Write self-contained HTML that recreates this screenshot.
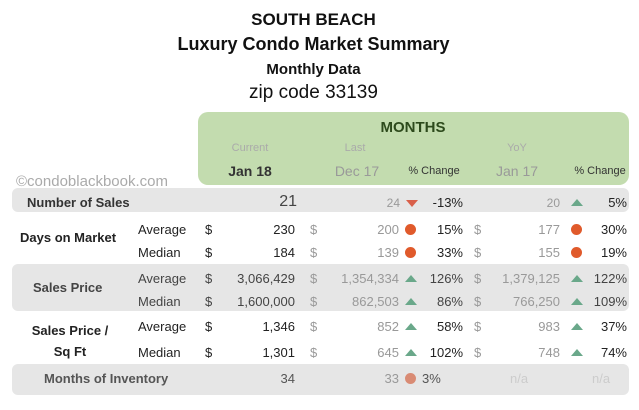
<!DOCTYPE html>
<html><head><meta charset="utf-8"><style>
body{margin:0;width:639px;height:410px;background:#fff;font-family:"Liberation Sans",Arial,sans-serif;position:relative;overflow:hidden}
.a{position:absolute;white-space:nowrap;line-height:16px;font-size:13px;color:#222}
.t{position:absolute;left:0;width:627px;text-align:center;font-weight:bold;color:#111}
.band{position:absolute;left:12px;width:617px;background:#e6e6e6;border-radius:6px}
.g{color:#999}
.c{position:absolute;width:11px;height:11px;border-radius:50%;background:#e05a2b}
.up{position:absolute;width:0;height:0;border-left:6px solid transparent;border-right:6px solid transparent;border-bottom:7px solid #6aa88a}
.dn{position:absolute;width:0;height:0;border-left:6px solid transparent;border-right:6px solid transparent;border-top:7px solid #d9604a}
.h{position:absolute;font-size:12px;color:#aaa;transform:translateX(-50%);white-space:nowrap}
</style></head><body>
<div class="t" style="top:10px;font-size:17px">SOUTH BEACH</div>
<div class="t" style="top:34px;font-size:18px">Luxury Condo Market Summary</div>
<div class="t" style="top:61px;font-size:15px">Monthly Data</div>
<div class="t" style="top:82px;font-size:19px;font-weight:normal">zip code 33139</div>

<div style="position:absolute;left:198px;top:112px;width:431px;height:73px;background:#c3dcaf;border-radius:10px"></div>
<div class="h" style="left:413px;top:119px;font-size:15px;font-weight:bold;color:#2d4a1c">MONTHS</div>
<div class="h" style="left:250px;top:142px;font-size:11px">Current</div>
<div class="h" style="left:355px;top:142px;font-size:11px">Last</div>
<div class="h" style="left:517px;top:142px;font-size:11px">YoY</div>
<div class="h" style="left:250px;top:163px;font-size:14px;font-weight:bold;color:#333">Jan 18</div>
<div class="h" style="left:357px;top:163px;font-size:14px;color:#999">Dec 17</div>
<div class="h" style="left:434px;top:165px;font-size:11px;color:#333">% Change</div>
<div class="h" style="left:517px;top:163px;font-size:14px;color:#999">Jan 17</div>
<div class="h" style="left:600px;top:165px;font-size:11px;color:#333">% Change</div>
<div class="a" style="left:16px;top:173px;font-size:15px;color:#aaa;line-height:18px">©condoblackbook.com</div>

<div class="band" style="top:188px;height:24px"></div>
<div class="band" style="top:264px;height:47px"></div>
<div class="band" style="top:364px;height:31px"></div>

<!-- Number of Sales -->
<div class="a" style="left:27px;top:195px;font-weight:bold;color:#333">Number of Sales</div>
<div class="a" style="right:342px;top:194px;font-size:16px;color:#444">21</div>
<div class="a g" style="right:239px;top:195px;font-size:12px">24</div>
<div class="dn" style="left:406px;top:200px"></div>
<div class="a" style="right:176px;top:195px">-13%</div>
<div class="a g" style="right:79px;top:195px;font-size:12px">20</div>
<div class="up" style="left:571px;top:199px"></div>
<div class="a" style="right:12px;top:195px">5%</div>

<!-- Days on Market -->
<div class="a" style="left:20px;top:230px;font-weight:bold">Days on Market</div>
<div class="a" style="left:138px;top:222px">Average</div>
<div class="a" style="left:205px;top:222px">$</div>
<div class="a" style="right:344px;top:222px">230</div>
<div class="a g" style="left:310px;top:222px">$</div>
<div class="a g" style="right:240px;top:222px">200</div>
<div class="c" style="left:405px;top:224px"></div>
<div class="a" style="right:176px;top:222px">15%</div>
<div class="a g" style="left:474px;top:222px">$</div>
<div class="a g" style="right:79px;top:222px">177</div>
<div class="c" style="left:571px;top:224px"></div>
<div class="a" style="right:12px;top:222px">30%</div>

<div class="a" style="left:138px;top:245px">Median</div>
<div class="a" style="left:205px;top:245px">$</div>
<div class="a" style="right:344px;top:245px">184</div>
<div class="a g" style="left:310px;top:245px">$</div>
<div class="a g" style="right:240px;top:245px">139</div>
<div class="c" style="left:405px;top:247px"></div>
<div class="a" style="right:176px;top:245px">33%</div>
<div class="a g" style="left:474px;top:245px">$</div>
<div class="a g" style="right:79px;top:245px">155</div>
<div class="c" style="left:571px;top:247px"></div>
<div class="a" style="right:12px;top:245px">19%</div>

<!-- Sales Price -->
<div class="a" style="left:33px;top:280px;font-weight:bold;color:#444">Sales Price</div>
<div class="a" style="left:138px;top:271px;color:#444">Average</div>
<div class="a" style="left:205px;top:271px;color:#444">$</div>
<div class="a" style="right:344px;top:271px;color:#444">3,066,429</div>
<div class="a g" style="left:310px;top:271px">$</div>
<div class="a g" style="right:240px;top:271px">1,354,334</div>
<div class="up" style="left:405px;top:275px"></div>
<div class="a" style="right:176px;top:271px;color:#444">126%</div>
<div class="a g" style="left:474px;top:271px">$</div>
<div class="a g" style="right:79px;top:271px">1,379,125</div>
<div class="up" style="left:571px;top:275px"></div>
<div class="a" style="right:12px;top:271px;color:#444">122%</div>

<div class="a" style="left:138px;top:294px;color:#444">Median</div>
<div class="a" style="left:205px;top:294px;color:#444">$</div>
<div class="a" style="right:344px;top:294px;color:#444">1,600,000</div>
<div class="a g" style="left:310px;top:294px">$</div>
<div class="a g" style="right:240px;top:294px">862,503</div>
<div class="up" style="left:405px;top:298px"></div>
<div class="a" style="right:176px;top:294px;color:#444">86%</div>
<div class="a g" style="left:474px;top:294px">$</div>
<div class="a g" style="right:79px;top:294px">766,250</div>
<div class="up" style="left:571px;top:298px"></div>
<div class="a" style="right:12px;top:294px;color:#444">109%</div>

<!-- Sales Price / Sq Ft -->
<div class="a" style="left:30px;top:320px;font-weight:bold;text-align:center;width:80px;line-height:21px">Sales Price /<br>Sq Ft</div>
<div class="a" style="left:138px;top:319px">Average</div>
<div class="a" style="left:205px;top:319px">$</div>
<div class="a" style="right:344px;top:319px">1,346</div>
<div class="a g" style="left:310px;top:319px">$</div>
<div class="a g" style="right:240px;top:319px">852</div>
<div class="up" style="left:405px;top:323px"></div>
<div class="a" style="right:176px;top:319px">58%</div>
<div class="a g" style="left:474px;top:319px">$</div>
<div class="a g" style="right:79px;top:319px">983</div>
<div class="up" style="left:571px;top:323px"></div>
<div class="a" style="right:12px;top:319px">37%</div>

<div class="a" style="left:138px;top:345px">Median</div>
<div class="a" style="left:205px;top:345px">$</div>
<div class="a" style="right:344px;top:345px">1,301</div>
<div class="a g" style="left:310px;top:345px">$</div>
<div class="a g" style="right:240px;top:345px">645</div>
<div class="up" style="left:405px;top:349px"></div>
<div class="a" style="right:176px;top:345px">102%</div>
<div class="a g" style="left:474px;top:345px">$</div>
<div class="a g" style="right:79px;top:345px">748</div>
<div class="up" style="left:571px;top:349px"></div>
<div class="a" style="right:12px;top:345px">74%</div>

<!-- Months of Inventory -->
<div class="a" style="left:44px;top:371px;font-weight:bold;color:#555">Months of Inventory</div>
<div class="a" style="right:344px;top:371px;color:#555">34</div>
<div class="a g" style="right:240px;top:371px">33</div>
<div class="c" style="left:405px;top:373px;background:#d98b74"></div>
<div class="a" style="left:422px;top:371px;color:#555">3%</div>
<div class="a" style="left:510px;top:371px;color:#ccc">n/a</div>
<div class="a" style="left:592px;top:371px;color:#ccc">n/a</div>
</body></html>
